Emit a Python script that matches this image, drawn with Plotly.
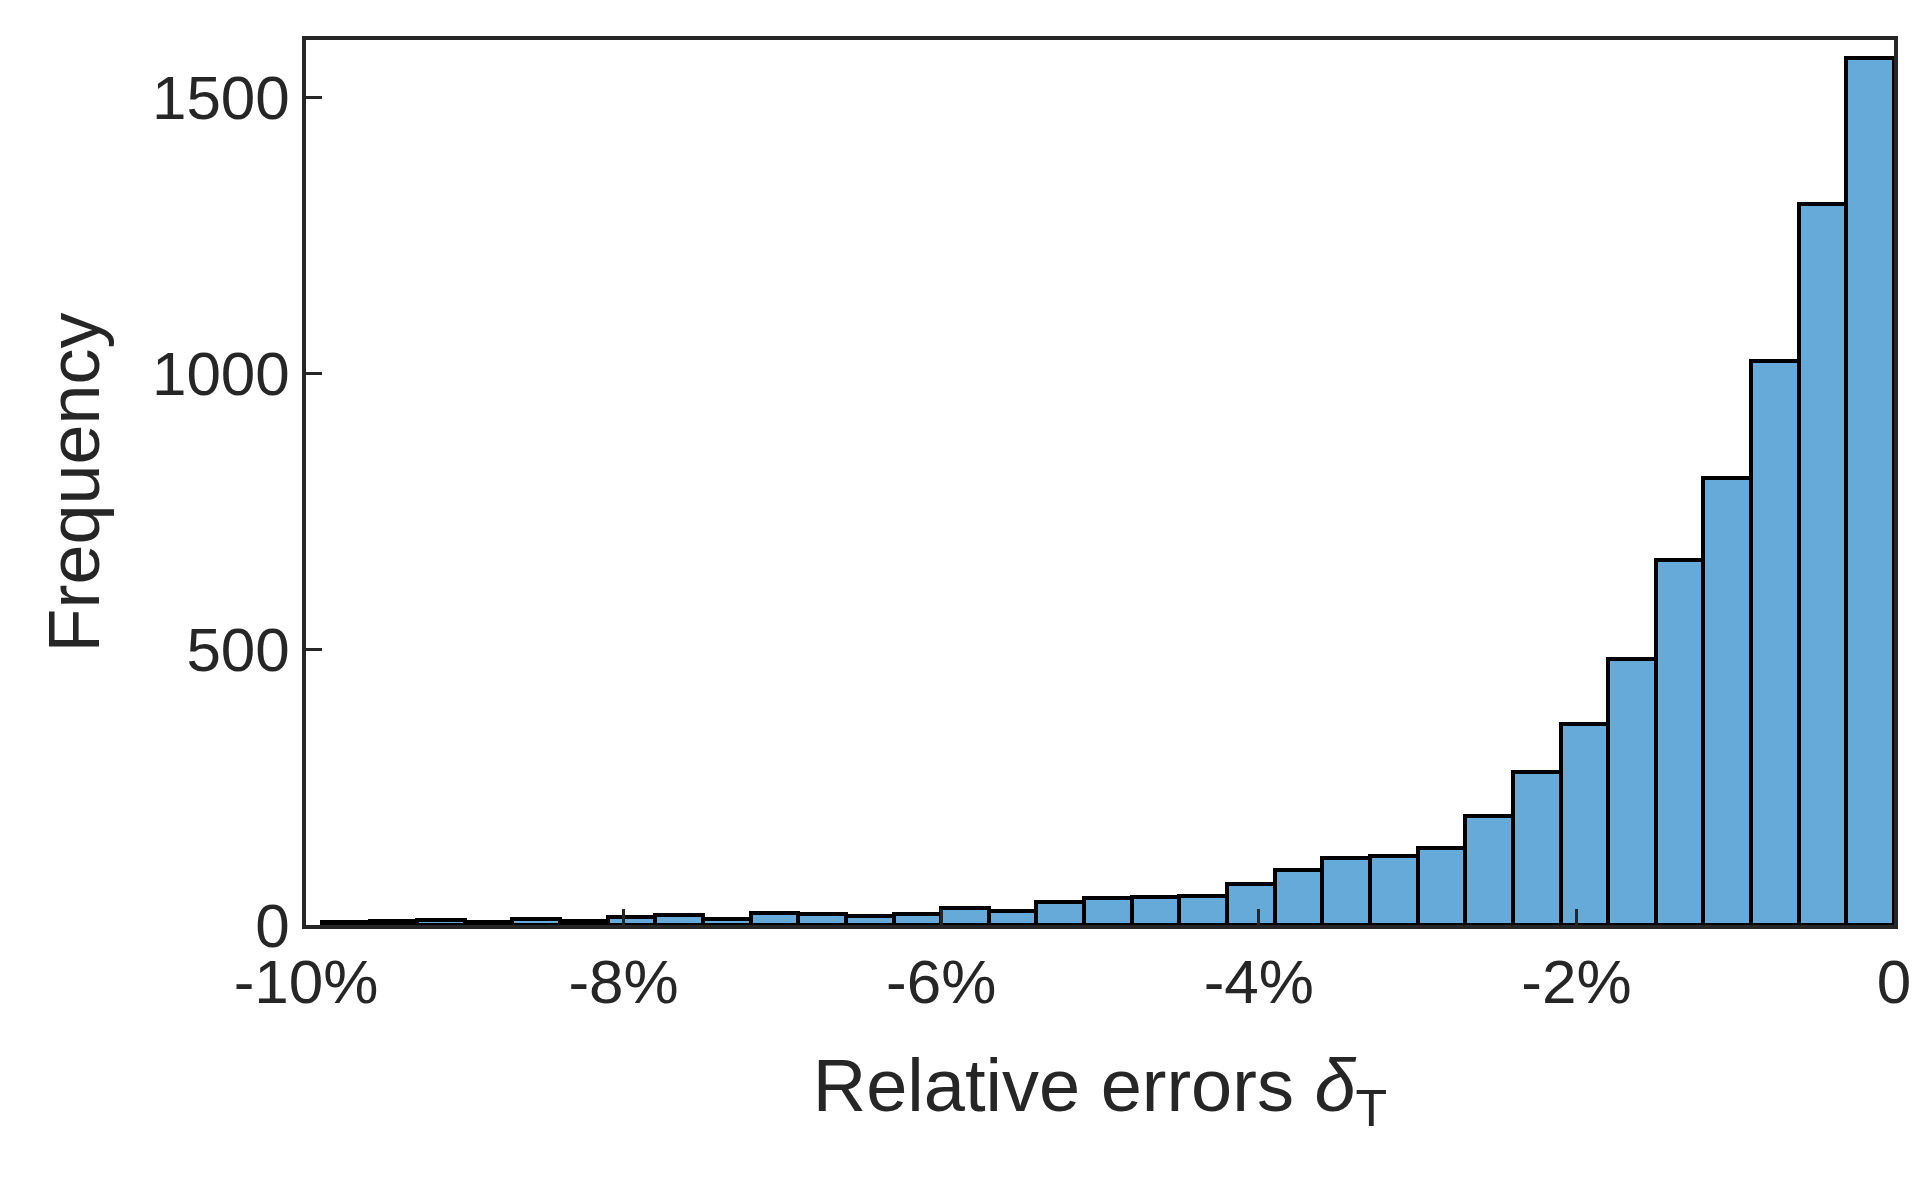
import plotly.graph_objects as go

bin_left_edges = [-9.9 + 0.3 * i for i in range(33)]
counts = [6, 8, 9, 6, 11, 8, 15, 18, 10, 22, 20, 17, 20, 31, 26, 42, 49, 51, 53, 74,
          100, 122, 125, 139, 197, 277, 365, 482, 662, 811, 1022, 1307, 1572]
tick_vals = [-10, -8, -6, -4, -2, 0]
tick_text = ["-10%", "-8%", "-6%", "-4%", "-2%", "0"]

centers = [e + 0.15 for e in bin_left_edges]
fig = go.Figure(go.Bar(x=centers, y=counts, width=0.3,
                       marker=dict(color="#65aad8", line=dict(color="black", width=4))))
ax = dict(showline=True, linecolor="#262626", linewidth=3.5, mirror=True, ticks="inside",
          ticklen=16, tickwidth=3, tickcolor="#262626", showgrid=False, zeroline=False,
          tickfont=dict(family="Liberation Sans, Arial", size=62, color="#262626"))
fig.update_layout(
    width=1929, height=1183, plot_bgcolor="white", paper_bgcolor="white",
    margin=dict(l=298, r=43, t=32, b=266), bargap=0, showlegend=False,
    xaxis=dict(range=[-10, 0], tickvals=tick_vals, ticktext=tick_text,
               title=dict(text="Relative errors <i>δ</i><sub>T</sub>", standoff=45,
                          font=dict(family="Liberation Sans, Arial", size=74, color="#262626")), **ax),
    yaxis=dict(range=[0, 1604], tickvals=[0, 500, 1000, 1500],
               title=dict(text="Frequency", standoff=30,
                          font=dict(family="Liberation Sans, Arial", size=72, color="#262626")), **ax),
)
fig.write_html("out.html")
